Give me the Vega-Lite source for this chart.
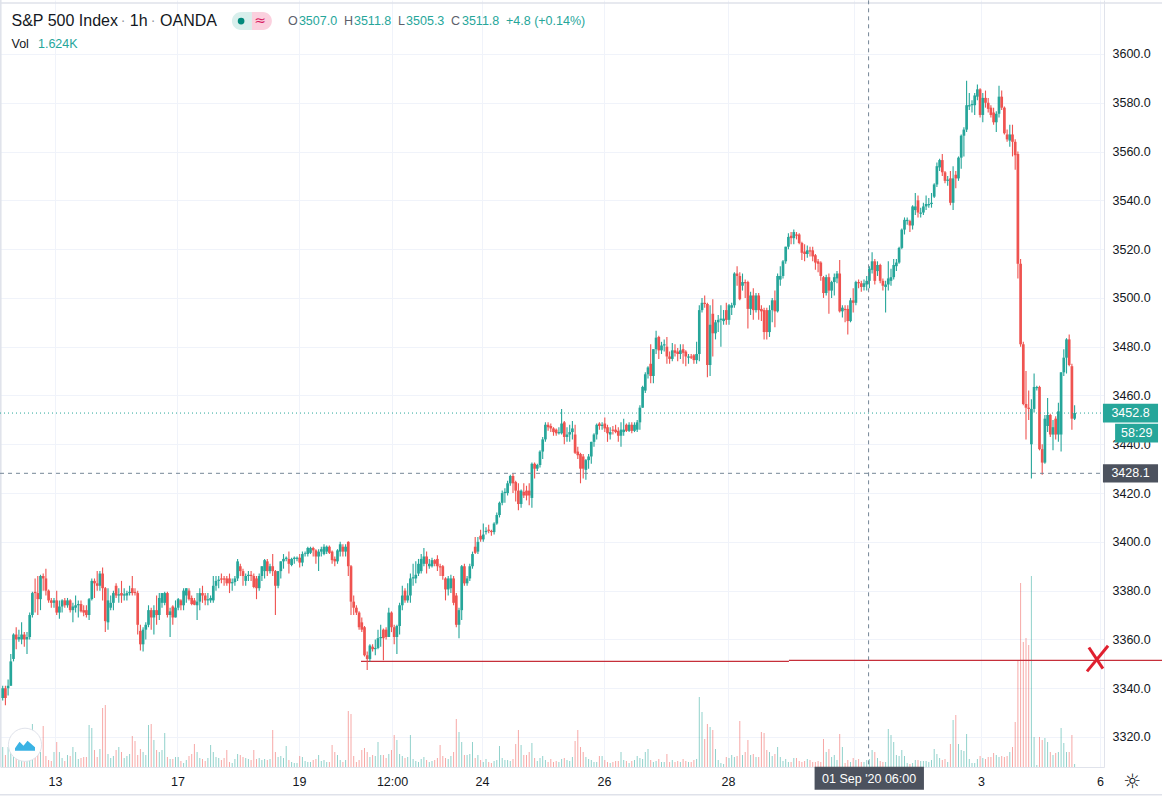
{"$schema":"https://vega.github.io/schema/vega-lite/v6.json","autosize":"none","padding":{"left":0,"top":0,"right":58,"bottom":29},"width":1104,"height":767,"background":"#ffffff","config":{"view":{"stroke":null},"axis":{"labelFont":"Liberation Sans","labelFontSize":12.5,"labelColor":"#131722","gridColor":"#f0f3fa","gridWidth":1,"domainColor":"#e0e3eb","tickSize":0,"title":null,"labelOverlap":false,"labelFlush":false},"text":{"font":"Liberation Sans"}},
"data":{"name":"candles"},
"datasets":{"candles":[
{"i":0,"o":3336,"h":3341,"l":3335,"c":3340,"v":4000},{"i":1,"o":3340,"h":3341,"l":3333,"c":3336,"v":2400},{"i":2,"o":3340,"h":3343.6,"l":3337,"c":3341,"v":4000},{"i":3,"o":3341,"h":3354,"l":3341,"c":3351,"v":3600},{"i":4,"o":3352,"h":3362.5,"l":3351,"c":3362,"v":3000},{"i":5,"o":3362,"h":3365,"l":3356,"c":3360,"v":2400},{"i":6,"o":3360,"h":3364,"l":3359,"c":3361,"v":2000},{"i":7,"o":3360,"h":3367,"l":3358,"c":3362,"v":1600},{"i":8,"o":3362,"h":3363,"l":3357,"c":3360,"v":1600},{"i":9,"o":3360,"h":3363,"l":3354,"c":3361,"v":2000},{"i":10,"o":3361,"h":3371,"l":3360,"c":3370,"v":4000},{"i":11,"o":3370,"h":3379.5,"l":3369,"c":3379,"v":8600},{"i":12,"o":3379.5,"h":3385,"l":3371,"c":3379,"v":2400},{"i":13,"o":3379,"h":3386,"l":3370,"c":3376.5,"v":3600},{"i":14,"o":3376.5,"h":3386.5,"l":3372,"c":3386,"v":3000},{"i":15,"o":3386,"h":3387,"l":3380,"c":3385,"v":8200},{"i":16,"o":3385,"h":3389,"l":3378,"c":3380,"v":2200},{"i":17,"o":3380,"h":3380.5,"l":3375,"c":3376,"v":1400},{"i":18,"o":3376,"h":3377,"l":3373,"c":3375,"v":1200},{"i":19,"o":3375,"h":3377,"l":3373,"c":3376,"v":3000},{"i":20,"o":3376,"h":3380,"l":3370,"c":3371,"v":5000},{"i":21,"o":3371,"h":3376,"l":3368.5,"c":3373.5,"v":3000},{"i":22,"o":3373.5,"h":3376.5,"l":3371,"c":3376,"v":1800},{"i":23,"o":3376,"h":3377,"l":3373,"c":3374,"v":1200},{"i":24,"o":3374,"h":3377,"l":3373,"c":3376,"v":2400},{"i":25,"o":3376,"h":3376.5,"l":3371,"c":3372,"v":2200},{"i":26,"o":3372,"h":3375,"l":3367,"c":3373.5,"v":4000},{"i":27,"o":3373,"h":3378,"l":3371,"c":3374,"v":3000},{"i":28,"o":3374,"h":3376,"l":3369,"c":3374.5,"v":1600},{"i":29,"o":3374.5,"h":3376,"l":3371,"c":3371.5,"v":1800},{"i":30,"o":3372,"h":3374,"l":3369.5,"c":3371,"v":2000},{"i":31,"o":3372,"h":3374,"l":3369,"c":3370,"v":2000},{"i":32,"o":3370,"h":3377,"l":3368,"c":3376.5,"v":8400},{"i":33,"o":3376.5,"h":3385,"l":3376,"c":3384,"v":7800},{"i":34,"o":3384,"h":3385,"l":3377,"c":3383,"v":3400},{"i":35,"o":3383,"h":3388,"l":3380,"c":3382,"v":2000},{"i":36,"o":3382,"h":3388,"l":3380,"c":3387,"v":3600},{"i":37,"o":3387,"h":3389.5,"l":3376,"c":3381,"v":11800},{"i":38,"o":3381,"h":3381.5,"l":3363,"c":3367.5,"v":12400},{"i":39,"o":3367,"h":3381,"l":3364,"c":3376,"v":2600},{"i":40,"o":3373,"h":3378,"l":3372,"c":3375,"v":1800},{"i":41,"o":3375,"h":3380,"l":3372,"c":3379,"v":2200},{"i":42,"o":3382,"h":3383,"l":3377,"c":3378,"v":3400},{"i":43,"o":3378,"h":3381,"l":3375,"c":3378.5,"v":4000},{"i":44,"o":3379,"h":3384,"l":3375,"c":3378,"v":3000},{"i":45,"o":3378,"h":3381,"l":3376,"c":3378.5,"v":1800},{"i":46,"o":3378,"h":3380,"l":3376,"c":3379,"v":2200},{"i":47,"o":3379,"h":3382,"l":3378,"c":3379.5,"v":2600},{"i":48,"o":3381,"h":3386,"l":3378,"c":3379,"v":6200},{"i":49,"o":3379.5,"h":3381,"l":3378,"c":3379,"v":5200},{"i":50,"o":3379,"h":3380,"l":3362,"c":3366,"v":2400},{"i":51,"o":3363.5,"h":3366,"l":3355.5,"c":3358,"v":3600},{"i":52,"o":3358,"h":3365,"l":3355,"c":3364,"v":3000},{"i":53,"o":3364,"h":3367,"l":3360,"c":3366,"v":2400},{"i":54,"o":3366,"h":3374,"l":3365,"c":3372,"v":8400},{"i":55,"o":3372,"h":3373,"l":3364,"c":3369,"v":8600},{"i":56,"o":3369,"h":3374,"l":3362,"c":3372,"v":5400},{"i":57,"o":3372,"h":3378,"l":3366,"c":3370,"v":3400},{"i":58,"o":3370,"h":3379,"l":3368,"c":3377,"v":3000},{"i":59,"o":3375,"h":3379,"l":3373,"c":3379,"v":3400},{"i":60,"o":3375,"h":3379.5,"l":3374,"c":3379,"v":6800},{"i":61,"o":3379,"h":3379.5,"l":3369,"c":3370,"v":2000},{"i":62,"o":3370,"h":3373,"l":3361,"c":3371.5,"v":1600},{"i":63,"o":3373.5,"h":3374,"l":3366,"c":3369,"v":1600},{"i":64,"o":3369,"h":3376,"l":3369,"c":3373,"v":2000},{"i":65,"o":3373,"h":3377,"l":3372,"c":3376.5,"v":2000},{"i":66,"o":3376,"h":3376.5,"l":3372,"c":3374,"v":1200},{"i":67,"o":3374,"h":3381,"l":3372,"c":3380,"v":800},{"i":68,"o":3378,"h":3381,"l":3375,"c":3381,"v":1400},{"i":69,"o":3380,"h":3381,"l":3376,"c":3376.5,"v":2200},{"i":70,"o":3377,"h":3378,"l":3374,"c":3374.5,"v":2600},{"i":71,"o":3376,"h":3377,"l":3374,"c":3374.2,"v":4600},{"i":72,"o":3374,"h":3379,"l":3368,"c":3375.5,"v":3000},{"i":73,"o":3375.5,"h":3381,"l":3372,"c":3379,"v":1800},{"i":74,"o":3379,"h":3382,"l":3375,"c":3378,"v":1600},{"i":75,"o":3378,"h":3379,"l":3374,"c":3376,"v":1200},{"i":76,"o":3376,"h":3379,"l":3374,"c":3376.5,"v":1800},{"i":77,"o":3376,"h":3378,"l":3375,"c":3377,"v":4400},{"i":78,"o":3376,"h":3386,"l":3375,"c":3382,"v":3000},{"i":79,"o":3382,"h":3386,"l":3380,"c":3384,"v":2000},{"i":80,"o":3384,"h":3386,"l":3381,"c":3384.5,"v":1800},{"i":81,"o":3385,"h":3387,"l":3383,"c":3384.5,"v":1400},{"i":82,"o":3385,"h":3386,"l":3382,"c":3384.5,"v":1800},{"i":83,"o":3385,"h":3386,"l":3382,"c":3383,"v":3400},{"i":84,"o":3385,"h":3387,"l":3379,"c":3383,"v":1000},{"i":85,"o":3383,"h":3385,"l":3380,"c":3383.5,"v":800},{"i":86,"o":3383.5,"h":3386,"l":3382,"c":3385,"v":1600},{"i":87,"o":3385,"h":3393,"l":3384,"c":3392,"v":2600},{"i":88,"o":3390,"h":3391,"l":3386,"c":3388,"v":2400},{"i":89,"o":3388,"h":3389,"l":3382,"c":3386,"v":2000},{"i":90,"o":3384,"h":3387,"l":3382,"c":3386,"v":1800},{"i":91,"o":3386,"h":3388,"l":3384,"c":3386.5,"v":1600},{"i":92,"o":3386.5,"h":3388,"l":3384,"c":3386,"v":1400},{"i":93,"o":3386,"h":3387,"l":3381,"c":3381.5,"v":3400},{"i":94,"o":3385,"h":3386,"l":3376.5,"c":3381,"v":1600},{"i":95,"o":3381,"h":3387,"l":3380,"c":3386,"v":1800},{"i":96,"o":3386,"h":3390,"l":3384,"c":3390,"v":1400},{"i":97,"o":3388,"h":3393,"l":3385,"c":3392.5,"v":1600},{"i":98,"o":3392,"h":3393,"l":3386,"c":3388,"v":1400},{"i":99,"o":3388,"h":3391,"l":3387,"c":3390,"v":1600},{"i":100,"o":3390,"h":3395,"l":3386,"c":3388,"v":7400},{"i":101,"o":3388,"h":3388.5,"l":3370,"c":3382,"v":3000},{"i":102,"o":3382,"h":3388,"l":3381,"c":3388,"v":2000},{"i":103,"o":3388,"h":3392,"l":3385,"c":3392,"v":2200},{"i":104,"o":3392,"h":3395,"l":3389,"c":3393,"v":1800},{"i":105,"o":3393,"h":3394,"l":3392,"c":3393.5,"v":4200},{"i":106,"o":3393,"h":3396,"l":3387,"c":3391,"v":1400},{"i":107,"o":3390.5,"h":3393.5,"l":3390,"c":3393,"v":1000},{"i":108,"o":3393,"h":3394,"l":3391,"c":3393.5,"v":800},{"i":109,"o":3393,"h":3394,"l":3392,"c":3393.5,"v":800},{"i":110,"o":3393.5,"h":3395,"l":3389.5,"c":3391.5,"v":2200},{"i":111,"o":3391.5,"h":3396,"l":3390,"c":3395,"v":2000},{"i":112,"o":3395,"h":3396,"l":3394,"c":3395.3,"v":1200},{"i":113,"o":3395,"h":3398,"l":3394,"c":3397.5,"v":1000},{"i":114,"o":3395.5,"h":3398,"l":3395,"c":3397.5,"v":1000},{"i":115,"o":3397.5,"h":3398,"l":3394,"c":3396.5,"v":1400},{"i":116,"o":3396.5,"h":3397,"l":3391,"c":3394,"v":1600},{"i":117,"o":3394,"h":3397,"l":3388,"c":3396,"v":2400},{"i":118,"o":3396,"h":3398,"l":3394,"c":3397,"v":1200},{"i":119,"o":3395,"h":3399,"l":3394.5,"c":3398,"v":1400},{"i":120,"o":3396,"h":3398.5,"l":3395,"c":3398,"v":1000},{"i":121,"o":3398,"h":3398.5,"l":3395,"c":3395.5,"v":1000},{"i":122,"o":3396,"h":3396.5,"l":3391,"c":3392.5,"v":4400},{"i":123,"o":3393,"h":3394,"l":3390,"c":3392,"v":3000},{"i":124,"o":3392,"h":3397,"l":3391,"c":3396.5,"v":2400},{"i":125,"o":3396,"h":3400,"l":3394,"c":3399,"v":1400},{"i":126,"o":3398,"h":3399,"l":3394,"c":3396,"v":1000},{"i":127,"o":3396,"h":3399,"l":3394,"c":3398,"v":1400},{"i":128,"o":3400,"h":3400.2,"l":3386,"c":3390,"v":11200},{"i":129,"o":3390,"h":3390.5,"l":3370,"c":3375.5,"v":10600},{"i":130,"o":3375.5,"h":3378,"l":3370,"c":3373,"v":2200},{"i":131,"o":3373,"h":3374,"l":3370,"c":3371,"v":1000},{"i":132,"o":3371,"h":3371.5,"l":3364,"c":3365,"v":1400},{"i":133,"o":3367,"h":3369,"l":3363,"c":3364,"v":3400},{"i":134,"o":3365,"h":3365.5,"l":3353,"c":3353.5,"v":3800},{"i":135,"o":3353.5,"h":3355,"l":3347.5,"c":3352,"v":3000},{"i":136,"o":3352,"h":3358,"l":3351,"c":3357.5,"v":2000},{"i":137,"o":3357,"h":3358,"l":3355,"c":3356,"v":2400},{"i":138,"o":3356,"h":3360,"l":3353.5,"c":3356.5,"v":2200},{"i":139,"o":3356.5,"h":3364,"l":3356,"c":3360.5,"v":5000},{"i":140,"o":3360.5,"h":3366,"l":3357,"c":3361,"v":2400},{"i":141,"o":3364,"h":3364.5,"l":3351.5,"c":3360.5,"v":2400},{"i":142,"o":3364,"h":3365,"l":3360,"c":3361,"v":1800},{"i":143,"o":3361,"h":3373,"l":3361,"c":3371,"v":2600},{"i":144,"o":3371,"h":3371.5,"l":3363,"c":3365,"v":3400},{"i":145,"o":3365,"h":3366,"l":3358,"c":3361,"v":6400},{"i":146,"o":3361,"h":3366,"l":3354,"c":3365.5,"v":5400},{"i":147,"o":3365.5,"h":3375,"l":3362,"c":3374,"v":2600},{"i":148,"o":3374,"h":3382,"l":3372,"c":3378,"v":2200},{"i":149,"o":3380,"h":3381,"l":3375,"c":3376,"v":1800},{"i":150,"o":3376,"h":3383,"l":3375,"c":3378,"v":2000},{"i":151,"o":3378,"h":3387,"l":3375,"c":3385,"v":6400},{"i":152,"o":3385,"h":3391,"l":3382,"c":3385.5,"v":1600},{"i":153,"o":3385,"h":3392,"l":3383,"c":3386.5,"v":1200},{"i":154,"o":3387,"h":3393,"l":3386,"c":3391,"v":1000},{"i":155,"o":3388,"h":3395,"l":3387,"c":3393,"v":1600},{"i":156,"o":3391,"h":3397.5,"l":3390,"c":3394,"v":2000},{"i":157,"o":3394,"h":3396,"l":3387,"c":3391,"v":1400},{"i":158,"o":3390,"h":3393,"l":3389,"c":3391,"v":1000},{"i":159,"o":3390,"h":3393.5,"l":3389.5,"c":3392.5,"v":1200},{"i":160,"o":3392.5,"h":3393,"l":3390,"c":3391,"v":1400},{"i":161,"o":3393,"h":3394.5,"l":3388,"c":3390,"v":1800},{"i":162,"o":3390,"h":3391,"l":3386,"c":3389.5,"v":4400},{"i":163,"o":3390,"h":3390.5,"l":3384.5,"c":3386,"v":2200},{"i":164,"o":3385,"h":3385.5,"l":3376,"c":3380.5,"v":1800},{"i":165,"o":3380.5,"h":3386,"l":3378,"c":3385,"v":1600},{"i":166,"o":3381,"h":3386.5,"l":3379,"c":3385,"v":2200},{"i":167,"o":3385,"h":3386,"l":3374,"c":3375,"v":3000},{"i":168,"o":3378,"h":3379,"l":3365,"c":3366,"v":9600},{"i":169,"o":3366,"h":3373,"l":3360.5,"c":3372,"v":7000},{"i":170,"o":3372,"h":3390.5,"l":3368,"c":3390,"v":5000},{"i":171,"o":3390,"h":3391,"l":3382,"c":3383,"v":2400},{"i":172,"o":3383,"h":3386,"l":3382,"c":3385,"v":2400},{"i":173,"o":3385,"h":3391,"l":3384,"c":3390,"v":2600},{"i":174,"o":3390,"h":3396,"l":3389,"c":3395,"v":5000},{"i":175,"o":3398,"h":3402,"l":3395,"c":3395.5,"v":1800},{"i":176,"o":3396,"h":3402,"l":3395,"c":3400,"v":2400},
{"i":177,"o":3402.5,"h":3405,"l":3400,"c":3401,"v":1400},{"i":178,"o":3401,"h":3407.5,"l":3400,"c":3403,"v":1000},{"i":179,"o":3404,"h":3406,"l":3403,"c":3404.5,"v":1600},{"i":180,"o":3405,"h":3407,"l":3403.5,"c":3404.5,"v":1000},{"i":181,"o":3404.5,"h":3405,"l":3402.5,"c":3404,"v":800},{"i":182,"o":3404,"h":3408,"l":3403,"c":3407.5,"v":1200},{"i":183,"o":3407.5,"h":3412,"l":3407,"c":3411,"v":1400},{"i":184,"o":3411,"h":3416.5,"l":3410,"c":3416,"v":4200},{"i":185,"o":3416,"h":3421,"l":3415,"c":3420,"v":1800},{"i":186,"o":3420,"h":3422,"l":3416,"c":3420.5,"v":1400},{"i":187,"o":3420,"h":3425,"l":3419,"c":3424,"v":1400},{"i":188,"o":3424,"h":3427.5,"l":3423,"c":3427,"v":1200},{"i":189,"o":3427,"h":3428,"l":3420,"c":3424,"v":1600},{"i":190,"o":3424.5,"h":3425,"l":3416.5,"c":3421,"v":4600},{"i":191,"o":3421,"h":3424,"l":3413,"c":3415.5,"v":7400},{"i":192,"o":3415.5,"h":3421.5,"l":3414,"c":3421,"v":4400},{"i":193,"o":3420.5,"h":3424,"l":3418,"c":3419,"v":2400},{"i":194,"o":3421,"h":3423,"l":3417,"c":3419,"v":2400},{"i":195,"o":3421,"h":3424,"l":3415,"c":3419,"v":3000},{"i":196,"o":3418,"h":3432.5,"l":3414,"c":3432,"v":4800},{"i":197,"o":3432,"h":3432.5,"l":3426,"c":3430,"v":1800},{"i":198,"o":3430,"h":3432,"l":3429,"c":3431.5,"v":1200},{"i":199,"o":3431.5,"h":3437.5,"l":3430.5,"c":3437,"v":1800},{"i":200,"o":3437,"h":3443,"l":3434,"c":3442,"v":2200},{"i":201,"o":3442,"h":3449,"l":3441,"c":3448,"v":1400},{"i":202,"o":3448,"h":3449,"l":3445.5,"c":3447,"v":1000},{"i":203,"o":3447.5,"h":3448.5,"l":3445,"c":3446.5,"v":1600},{"i":204,"o":3446.5,"h":3447,"l":3443.5,"c":3445,"v":1000},{"i":205,"o":3446,"h":3446.5,"l":3443.5,"c":3444.5,"v":1200},{"i":206,"o":3444.5,"h":3447,"l":3444,"c":3445,"v":1000},{"i":207,"o":3444.5,"h":3454.5,"l":3444,"c":3448.5,"v":1600},{"i":208,"o":3449,"h":3449.5,"l":3440,"c":3443,"v":1800},{"i":209,"o":3443,"h":3447,"l":3441,"c":3444,"v":1400},{"i":210,"o":3444,"h":3448,"l":3441,"c":3445,"v":1200},{"i":211,"o":3445,"h":3449.5,"l":3442,"c":3446.5,"v":2000},{"i":212,"o":3444,"h":3448,"l":3436,"c":3436.5,"v":5200},{"i":213,"o":3437,"h":3439,"l":3434,"c":3435.5,"v":7400},{"i":214,"o":3436,"h":3436.5,"l":3424,"c":3430,"v":4000},{"i":215,"o":3435,"h":3436,"l":3426,"c":3430,"v":3000},{"i":216,"o":3429.5,"h":3434,"l":3425.5,"c":3433.5,"v":2000},{"i":217,"o":3433.5,"h":3436,"l":3430,"c":3435,"v":1600},{"i":218,"o":3435,"h":3441,"l":3432,"c":3441,"v":1400},{"i":219,"o":3441,"h":3444.5,"l":3439,"c":3444,"v":1000},{"i":220,"o":3444,"h":3448.5,"l":3442,"c":3448,"v":1000},{"i":221,"o":3448.5,"h":3449,"l":3446,"c":3447.5,"v":2200},{"i":222,"o":3447.5,"h":3449,"l":3446,"c":3448,"v":2200},{"i":223,"o":3448.5,"h":3451,"l":3445,"c":3446.5,"v":1400},{"i":224,"o":3447,"h":3448,"l":3441,"c":3444.5,"v":1000},{"i":225,"o":3444,"h":3447,"l":3442,"c":3445,"v":800},{"i":226,"o":3446,"h":3447.5,"l":3444,"c":3445.5,"v":1000},{"i":227,"o":3446,"h":3448,"l":3444.5,"c":3445,"v":1200},{"i":228,"o":3445.5,"h":3447,"l":3441,"c":3443.5,"v":1200},{"i":229,"o":3443.5,"h":3449,"l":3439,"c":3446,"v":3000},{"i":230,"o":3445,"h":3450.5,"l":3443.5,"c":3446,"v":1400},{"i":231,"o":3448,"h":3448.5,"l":3445,"c":3445.5,"v":1200},{"i":232,"o":3445.5,"h":3449,"l":3445,"c":3448,"v":800},{"i":233,"o":3448,"h":3449,"l":3444.5,"c":3445.5,"v":1200},{"i":234,"o":3445.5,"h":3449,"l":3445,"c":3448,"v":1400},{"i":235,"o":3446,"h":3450,"l":3445,"c":3449,"v":2200},{"i":236,"o":3449,"h":3456,"l":3446,"c":3455,"v":1800},{"i":237,"o":3455,"h":3464,"l":3455,"c":3463.5,"v":1600},{"i":238,"o":3462,"h":3469.5,"l":3461,"c":3468.7,"v":3000},{"i":239,"o":3468.7,"h":3472,"l":3467,"c":3471.5,"v":3600},{"i":240,"o":3473,"h":3481,"l":3465,"c":3468,"v":1400},{"i":241,"o":3468,"h":3479,"l":3465,"c":3479,"v":1000},{"i":242,"o":3479,"h":3486.5,"l":3477,"c":3483.7,"v":1200},{"i":243,"o":3484,"h":3484.5,"l":3475,"c":3478.5,"v":1600},{"i":244,"o":3478.5,"h":3482,"l":3477,"c":3480.5,"v":1000},{"i":245,"o":3480.5,"h":3483,"l":3478,"c":3481,"v":1000},{"i":246,"o":3480,"h":3484,"l":3473,"c":3476,"v":2600},{"i":247,"o":3476,"h":3478,"l":3473,"c":3475,"v":1000},{"i":248,"o":3475,"h":3481.5,"l":3474,"c":3478.5,"v":1400},{"i":249,"o":3478.5,"h":3481,"l":3476,"c":3477.5,"v":1000},{"i":250,"o":3478,"h":3479.5,"l":3474,"c":3477,"v":1200},{"i":251,"o":3477,"h":3481,"l":3475,"c":3478.5,"v":1000},{"i":252,"o":3479,"h":3481,"l":3473,"c":3477.5,"v":1600},{"i":253,"o":3478,"h":3478.5,"l":3472,"c":3476,"v":1200},{"i":254,"o":3475.5,"h":3477,"l":3473,"c":3476,"v":1000},{"i":255,"o":3476,"h":3477,"l":3475,"c":3475.5,"v":1000},{"i":256,"o":3476.5,"h":3477,"l":3473,"c":3474.5,"v":1400},{"i":257,"o":3474.5,"h":3482,"l":3473,"c":3477,"v":1600},{"i":258,"o":3477,"h":3497,"l":3474,"c":3495,"v":14000},{"i":259,"o":3495,"h":3500,"l":3494,"c":3498,"v":11000},{"i":260,"o":3498,"h":3501,"l":3496,"c":3497.5,"v":5600},{"i":261,"o":3497.5,"h":3498,"l":3467.5,"c":3472.5,"v":8600},{"i":262,"o":3472.5,"h":3497,"l":3468,"c":3489,"v":8000},{"i":263,"o":3493.5,"h":3499.5,"l":3476,"c":3485.5,"v":7400},{"i":264,"o":3485.5,"h":3491,"l":3483,"c":3490,"v":3600},{"i":265,"o":3490,"h":3493,"l":3486,"c":3491,"v":1400},{"i":266,"o":3491,"h":3497,"l":3480,"c":3491.5,"v":800},{"i":267,"o":3490.5,"h":3495,"l":3489,"c":3491.5,"v":600},{"i":268,"o":3495,"h":3498,"l":3489,"c":3491,"v":2000},{"i":269,"o":3491,"h":3497.5,"l":3489,"c":3497,"v":1800},{"i":270,"o":3496,"h":3498,"l":3493,"c":3497,"v":2400},{"i":271,"o":3497,"h":3510.5,"l":3496,"c":3510,"v":2000},{"i":272,"o":3510,"h":3513,"l":3505,"c":3509,"v":2200},{"i":273,"o":3509,"h":3510.5,"l":3499,"c":3499.5,"v":9200},{"i":274,"o":3505,"h":3510,"l":3503,"c":3506.5,"v":2400},{"i":275,"o":3506.5,"h":3507.5,"l":3500,"c":3506,"v":3000},{"i":276,"o":3506.5,"h":3507,"l":3487.5,"c":3495.5,"v":5400},{"i":277,"o":3495.5,"h":3502.5,"l":3493,"c":3501,"v":2400},{"i":278,"o":3501,"h":3504,"l":3491,"c":3495,"v":2600},{"i":279,"o":3495,"h":3502,"l":3494,"c":3501,"v":2000},{"i":280,"o":3501,"h":3502,"l":3491,"c":3495,"v":2000},{"i":281,"o":3495.5,"h":3497,"l":3490.5,"c":3494.5,"v":7000},{"i":282,"o":3495,"h":3496,"l":3483,"c":3486,"v":6800},{"i":283,"o":3495,"h":3496,"l":3483,"c":3486,"v":3400},{"i":284,"o":3486,"h":3497,"l":3484,"c":3495,"v":3000},{"i":285,"o":3495,"h":3500,"l":3490,"c":3499,"v":2200},{"i":286,"o":3499,"h":3503,"l":3488,"c":3494.5,"v":2600},{"i":287,"o":3494.5,"h":3510,"l":3494,"c":3509,"v":4000},{"i":288,"o":3507.5,"h":3513,"l":3505,"c":3509,"v":2000},{"i":289,"o":3509,"h":3515.5,"l":3508,"c":3515,"v":1200},{"i":290,"o":3515,"h":3521,"l":3514,"c":3521,"v":1600},{"i":291,"o":3521,"h":3526.5,"l":3520,"c":3525,"v":1000},{"i":292,"o":3525.5,"h":3527,"l":3522,"c":3524.5,"v":1000},{"i":293,"o":3524.5,"h":3528,"l":3522,"c":3527,"v":1800},{"i":294,"o":3526,"h":3527,"l":3524,"c":3525.5,"v":1800},{"i":295,"o":3526,"h":3526.5,"l":3522,"c":3522.5,"v":1200},{"i":296,"o":3522.5,"h":3523,"l":3515.5,"c":3518.5,"v":1000},{"i":297,"o":3519,"h":3522,"l":3515,"c":3518,"v":1200},{"i":298,"o":3518,"h":3521.5,"l":3516.5,"c":3519.5,"v":1600},{"i":299,"o":3519.5,"h":3521,"l":3517,"c":3519,"v":1400},{"i":300,"o":3519.5,"h":3521,"l":3515,"c":3517,"v":1000},{"i":301,"o":3517.5,"h":3518,"l":3511.5,"c":3514.5,"v":1000},{"i":302,"o":3515,"h":3516,"l":3510.5,"c":3514,"v":1200},{"i":303,"o":3514.5,"h":3515,"l":3507,"c":3509,"v":1000},{"i":304,"o":3508.5,"h":3509,"l":3500,"c":3502,"v":5600},{"i":305,"o":3502,"h":3509.5,"l":3501,"c":3508.5,"v":3000},{"i":306,"o":3508.5,"h":3510,"l":3493.5,"c":3503,"v":3600},{"i":307,"o":3503,"h":3507,"l":3500,"c":3506.5,"v":2000},{"i":308,"o":3506.5,"h":3510,"l":3501,"c":3508.5,"v":2400},{"i":309,"o":3508,"h":3511,"l":3506,"c":3510,"v":1400},{"i":310,"o":3510,"h":3515.5,"l":3494,"c":3494.5,"v":6600},{"i":311,"o":3494.5,"h":3497,"l":3492,"c":3496,"v":4000},{"i":312,"o":3495.5,"h":3497,"l":3490,"c":3495,"v":800},{"i":313,"o":3495.5,"h":3497,"l":3485,"c":3490.5,"v":1400},{"i":314,"o":3490.5,"h":3500,"l":3490,"c":3499,"v":1000},{"i":315,"o":3499,"h":3504,"l":3494,"c":3498,"v":1800},{"i":316,"o":3498,"h":3507,"l":3497,"c":3506.5,"v":1400},{"i":317,"o":3506.5,"h":3507.5,"l":3504,"c":3506,"v":1600},{"i":318,"o":3506,"h":3507,"l":3502.5,"c":3504.5,"v":1000},{"i":319,"o":3504.5,"h":3507.5,"l":3503,"c":3506,"v":1000},{"i":320,"o":3505.5,"h":3509,"l":3503,"c":3507,"v":1400},{"i":321,"o":3507,"h":3513,"l":3504,"c":3512,"v":1600},{"i":322,"o":3511.5,"h":3518.7,"l":3510,"c":3515,"v":3400},{"i":323,"o":3515,"h":3516,"l":3505.5,"c":3507,"v":3000},{"i":324,"o":3511,"h":3515,"l":3509,"c":3513.5,"v":1800},{"i":325,"o":3513.5,"h":3514,"l":3506,"c":3507,"v":1200},{"i":326,"o":3507,"h":3508,"l":3503,"c":3505,"v":1000},{"i":327,"o":3504.5,"h":3507,"l":3494,"c":3505.5,"v":1000},{"i":328,"o":3505.5,"h":3515,"l":3503,"c":3508,"v":7600},{"i":329,"o":3507,"h":3512,"l":3505,"c":3508.5,"v":6400},{"i":330,"o":3508.5,"h":3516,"l":3507.5,"c":3513.5,"v":5000},{"i":331,"o":3513,"h":3516,"l":3511,"c":3514.5,"v":2400},{"i":332,"o":3514.5,"h":3521,"l":3514,"c":3520.5,"v":2200},{"i":333,"o":3520.5,"h":3528.5,"l":3520,"c":3528,"v":3400},{"i":334,"o":3528,"h":3533,"l":3526,"c":3532,"v":2200},{"i":335,"o":3531.5,"h":3533,"l":3530,"c":3532,"v":800},{"i":336,"o":3531.5,"h":3532,"l":3527,"c":3529.7,"v":600},{"i":337,"o":3529.7,"h":3538,"l":3528,"c":3537.5,"v":800},{"i":338,"o":3536,"h":3543,"l":3534,"c":3537.5,"v":1400},{"i":339,"o":3540,"h":3542,"l":3533,"c":3535,"v":1400},{"i":340,"o":3534.5,"h":3537,"l":3533,"c":3535,"v":1200},{"i":341,"o":3535,"h":3539,"l":3534,"c":3537.5,"v":1200},{"i":342,"o":3537.5,"h":3542,"l":3536,"c":3538.5,"v":1200},{"i":343,"o":3538,"h":3541,"l":3537,"c":3538.5,"v":1000},{"i":344,"o":3538.5,"h":3543,"l":3537,"c":3539,"v":1400},{"i":345,"o":3541.5,"h":3547,"l":3541,"c":3546.5,"v":3600},{"i":346,"o":3546.5,"h":3555.5,"l":3545.5,"c":3554,"v":2600},{"i":347,"o":3553.5,"h":3557,"l":3552,"c":3556.5,"v":1800},{"i":348,"o":3556.5,"h":3559,"l":3550,"c":3551.5,"v":1400},{"i":349,"o":3551.5,"h":3552,"l":3547,"c":3548,"v":1600},{"i":350,"o":3548,"h":3550,"l":3546,"c":3548.5,"v":1000},{"i":351,"o":3549,"h":3552,"l":3538,"c":3539,"v":4600},{"i":352,"o":3539,"h":3554,"l":3536,"c":3549,"v":9400},{"i":353,"o":3550.5,"h":3552,"l":3545,"c":3549,"v":10400},{"i":354,"o":3549,"h":3558,"l":3548,"c":3557.5,"v":4600},{"i":355,"o":3557.5,"h":3567,"l":3553,"c":3566.5,"v":3400},{"i":356,"o":3566.5,"h":3570,"l":3558,"c":3569,"v":3200},{"i":357,"o":3569,"h":3589,"l":3568,"c":3579,"v":6600},{"i":358,"o":3578.5,"h":3584,"l":3577,"c":3579,"v":1600},{"i":359,"o":3579,"h":3581,"l":3576,"c":3579.5,"v":800},{"i":360,"o":3579,"h":3584,"l":3575,"c":3583,"v":800},{"i":361,"o":3582.5,"h":3587.5,"l":3581,"c":3585.5,"v":1600},{"i":362,"o":3585.5,"h":3586,"l":3574,"c":3575,"v":2200},{"i":363,"o":3575,"h":3584,"l":3572,"c":3582,"v":1800},{"i":364,"o":3582,"h":3585,"l":3578,"c":3580,"v":1600},{"i":365,"o":3580,"h":3582,"l":3576,"c":3577.5,"v":2000},{"i":366,"o":3578,"h":3579,"l":3574,"c":3575,"v":2000},{"i":367,"o":3576,"h":3578,"l":3571,"c":3572,"v":2800},{"i":368,"o":3572,"h":3576.5,"l":3568,"c":3575.5,"v":2400},{"i":369,"o":3575.5,"h":3587,"l":3574,"c":3582.5,"v":2000},{"i":370,"o":3582.5,"h":3585,"l":3577,"c":3578,"v":2200},{"i":371,"o":3578,"h":3578.5,"l":3567,"c":3567.5,"v":2000},{"i":372,"o":3567,"h":3569,"l":3564,"c":3565,"v":2200},{"i":373,"o":3564.5,"h":3571,"l":3562,"c":3567,"v":3000},{"i":374,"o":3567,"h":3571,"l":3558,"c":3564,"v":4000},{"i":375,"o":3564,"h":3565,"l":3552.5,"c":3558.5,"v":9000},{"i":376,"o":3559,"h":3560,"l":3508,"c":3514,"v":21400},{"i":377,"o":3514,"h":3516,"l":3480,"c":3481,"v":36800},{"i":378,"o":3481,"h":3482,"l":3456,"c":3456.5,"v":25000},{"i":379,"o":3456.5,"h":3470,"l":3442,"c":3455,"v":25800},{"i":380,"o":3455,"h":3462,"l":3450,"c":3454.5,"v":24400},{"i":381,"o":3440,"h":3458.5,"l":3426,"c":3454.5,"v":38200},{"i":382,"o":3454.5,"h":3469,"l":3453,"c":3463.5,"v":6000},{"i":383,"o":3463,"h":3464,"l":3462,"c":3463.5,"v":400},{"i":384,"o":3463.5,"h":3464,"l":3437.5,"c":3438,"v":6000},{"i":385,"o":3438,"h":3440,"l":3427.5,"c":3432.5,"v":5400},{"i":386,"o":3432.5,"h":3452,"l":3432,"c":3450.5,"v":5800},{"i":387,"o":3447.5,"h":3459,"l":3445,"c":3452,"v":5000},{"i":388,"o":3452,"h":3452.5,"l":3443,"c":3444,"v":3000},{"i":389,"o":3444,"h":3450,"l":3437.5,"c":3447,"v":2400},{"i":390,"o":3450.5,"h":3451.5,"l":3442,"c":3444,"v":2800},{"i":391,"o":3444,"h":3457,"l":3441,"c":3453.5,"v":3000},{"i":392,"o":3444,"h":3469.5,"l":3437,"c":3469.5,"v":7800},{"i":393,"o":3469.5,"h":3479,"l":3468,"c":3475.5,"v":4800},{"i":394,"o":3475.5,"h":3483.5,"l":3469,"c":3483,"v":3000},{"i":395,"o":3483,"h":3485,"l":3472,"c":3472.5,"v":3000},{"i":396,"o":3472,"h":3473,"l":3446,"c":3450.5,"v":6400},{"i":397,"o":3450.5,"h":3456,"l":3450,"c":3452.8,"v":600}
]},
"encoding":{"x":{"field":"i","type":"quantitative","scale":{"domain":[-1,407.89],"nice":false,"zero":false,"padding":0},"axis":{"values":[19.37,64.74,109.74,144.2,177.5,222.7,268.6,315.3,362.3,406.4],"labelExpr":"{'19.37':'13','64.74':'17','109.74':'19','144.2':'12:00','177.5':'24','222.7':'26','268.6':'28','315.3':'','362.3':'3','406.4':'6'}[''+datum.value]","labelPadding":8,"grid":true}}},
"resolve":{"scale":{"y":"independent"}},
"layer":[
{"data":{"values":[{"i":-1,"i2":430,"p":3620.9},{"i":-1,"i2":430,"p":3296.3}]},"mark":{"type":"rule","color":"#dfe2ea","strokeWidth":1.5},"encoding":{"x2":{"field":"i2"},"y":{"field":"p","type":"quantitative","scale":{"domain":[3307.7,3622.13],"nice":false,"zero":false},"axis":{"orient":"right","values":[3320,3340,3360,3380,3400,3420,3440,3460,3480,3500,3520,3540,3560,3580,3600],"format":".1f","labelPadding":8,"grid":true}}}},
{"mark":{"type":"bar","size":1,"opacity":0.5,"orient":"vertical"},"encoding":{"y":{"field":"v","type":"quantitative","stack":null,"scale":{"domain":[0,153400],"nice":false},"axis":null},"color":{"condition":{"test":"datum.c>=datum.o","value":"#26a69a"},"value":"#ef5350"}}},
{"layer":[
{"data":{"values":[{"i":-0.7,"p":3622.13,"p2":3307.7}]},"mark":{"type":"rule","color":"#dfe2ea","strokeWidth":1.5},"encoding":{"y":{"field":"p","type":"quantitative","scale":{"domain":[3307.7,3622.13],"nice":false,"zero":false},"axis":null},"y2":{"field":"p2"}}},
{"data":{"values":[{"i":132.7,"i2":291.2,"p":3351},{"i":291.2,"i2":429.4,"p":3351.4}]},"mark":{"type":"rule","color":"#c62f3a","strokeWidth":1.2},"encoding":{"x2":{"field":"i2"},"y":{"field":"p","type":"quantitative","axis":null}}},
{"mark":{"type":"rule","strokeWidth":1.1},"encoding":{"y":{"field":"l","type":"quantitative","axis":null},"y2":{"field":"h"},"color":{"condition":{"test":"datum.c>=datum.o","value":"#26a69a"},"value":"#ef5350"}}},
{"mark":{"type":"bar","size":2.7,"orient":"vertical"},"encoding":{"y":{"field":"o","type":"quantitative","axis":null},"y2":{"field":"c"},"color":{"condition":{"test":"datum.c>=datum.o","value":"#26a69a"},"value":"#ef5350"}}},
{"data":{"values":[{"i":-1,"i2":407.5,"p":3452.8}]},"mark":{"type":"rule","color":"#26a69a","strokeWidth":1,"strokeDash":[1,3]},"encoding":{"x2":{"field":"i2"},"y":{"field":"p","type":"quantitative","axis":null}}},
{"data":{"values":[{"i":-1,"i2":407.5,"p":3428.1}]},"mark":{"type":"rule","color":"#758696","strokeWidth":1,"strokeDash":[4,4]},"encoding":{"x2":{"field":"i2"},"y":{"field":"p","type":"quantitative","axis":null}}},
{"data":{"values":[{"i":320.7,"p":3622,"p2":3307.7}]},"mark":{"type":"rule","color":"#758696","strokeWidth":1,"strokeDash":[4,4]},"encoding":{"y":{"field":"p","type":"quantitative","axis":null},"y2":{"field":"p2"}}},
{"data":{"values":[{"i":401.6,"p":3346.9,"i2":409.4,"p2":3357.4},{"i":402.3,"p":3356.7,"i2":407.5,"p2":3348}]},"mark":{"type":"rule","color":"#e0202f","strokeWidth":3},"encoding":{"x2":{"field":"i2"},"y":{"field":"p","type":"quantitative","axis":null},"y2":{"field":"p2"}}},
{"data":{"values":[{"i":407.5,"i2":427.9,"p":3456.6,"p2":3448.9},{"i":412,"i2":427.9,"p":3448.4,"p2":3440.7}]},"mark":{"type":"rect","color":"#26a69a"},"encoding":{"x2":{"field":"i2"},"y":{"field":"p","type":"quantitative","axis":null},"y2":{"field":"p2"}}},
{"data":{"values":[{"i":407.5,"i2":427.9,"p":3431.8,"p2":3424.3},{"i":300.7,"i2":341.2,"p":3307.8,"p2":3298.4}]},"mark":{"type":"rect","color":"#4c525e"},"encoding":{"x2":{"field":"i2"},"y":{"field":"p","type":"quantitative","axis":null},"y2":{"field":"p2"}}},
{"data":{"values":[{"i":417.7,"p":3452.8,"t":"3452.8"},{"i":420,"p":3444.6,"t":"58:29"},{"i":417.7,"p":3428.1,"t":"3428.1"},{"i":320.9,"p":3302.9,"t":"01 Sep '20   06:00"}]},"mark":{"type":"text","color":"#ffffff","fontSize":12.5,"align":"center","baseline":"middle"},"encoding":{"y":{"field":"p","type":"quantitative","axis":null},"text":{"field":"t"}}},
{"data":{"values":[{"i":3.26,"p":3613.5,"t":"S&P 500 Index"},{"i":47.1,"p":3613.5,"t":"1h"},{"i":58.3,"p":3613.5,"t":"OANDA"},{"i":3.26,"p":3604.1,"t":"Vol","small":true}]},"transform":[{"filter":"!datum.small"}],"mark":{"type":"text","color":"#131722","fontSize":16,"align":"left","baseline":"middle"},"encoding":{"y":{"field":"p","type":"quantitative","axis":null},"text":{"field":"t"}}},
{"data":{"values":[{"i":44.6,"p":3613.5,"t":"·"},{"i":55.7,"p":3613.5,"t":"·"}]},"mark":{"type":"text","color":"#9598a1","fontSize":14,"align":"center","baseline":"middle"},"encoding":{"y":{"field":"p","type":"quantitative","axis":null},"text":{"field":"t"}}},
{"data":{"values":[{"i":3.26,"p":3604.1,"t":"Vol"}]},"mark":{"type":"text","color":"#131722","fontSize":12.5,"align":"left","baseline":"middle"},"encoding":{"y":{"field":"p","type":"quantitative","axis":null},"text":{"field":"t"}}},
{"data":{"values":[{"i":105.7,"p":3613.5,"t":"O"},{"i":126.4,"p":3613.5,"t":"H"},{"i":146.4,"p":3613.5,"t":"L"},{"i":166,"p":3613.5,"t":"C"}]},"mark":{"type":"text","color":"#5d606b","fontSize":12.5,"align":"left","baseline":"middle"},"encoding":{"y":{"field":"p","type":"quantitative","axis":null},"text":{"field":"t"}}},
{"data":{"values":[{"i":109.7,"p":3613.5,"t":"3507.0"},{"i":130.1,"p":3613.5,"t":"3511.8"},{"i":149.4,"p":3613.5,"t":"3505.3"},{"i":170.1,"p":3613.5,"t":"3511.8"},{"i":186.4,"p":3613.5,"t":"+4.8 (+0.14%)"},{"i":13.07,"p":3604.1,"t":"1.624K"}]},"mark":{"type":"text","color":"#26a69a","fontSize":12.5,"align":"left","baseline":"middle"},"encoding":{"y":{"field":"p","type":"quantitative","axis":null},"text":{"field":"t"}}},
{"data":{"values":[{"i":84.9,"i2":92.3,"p":3617.2,"p2":3609.8}]},"mark":{"type":"rect","color":"#d8efec","cornerRadiusTopLeft":9,"cornerRadiusBottomLeft":9},"encoding":{"x2":{"field":"i2"},"y":{"field":"p","type":"quantitative","axis":null},"y2":{"field":"p2"}}},
{"data":{"values":[{"i":92.3,"i2":99.7,"p":3617.2,"p2":3609.8}]},"mark":{"type":"rect","color":"#fbd0de","cornerRadiusTopRight":9,"cornerRadiusBottomRight":9},"encoding":{"x2":{"field":"i2"},"y":{"field":"p","type":"quantitative","axis":null},"y2":{"field":"p2"}}},
{"data":{"values":[{"i":88.3,"p":3613.5}]},"mark":{"type":"point","filled":true,"size":45,"opacity":1,"color":"#00897b"},"encoding":{"y":{"field":"p","type":"quantitative","axis":null}}},
{"data":{"values":[{"i":95.3,"p":3613.5,"t":"≈"}]},"mark":{"type":"text","fontSize":14,"color":"#d81b60","align":"center","baseline":"middle","font":"DejaVu Sans"},"encoding":{"y":{"field":"p","type":"quantitative","axis":null},"text":{"field":"t"}}},
{"data":{"values":[{"i":8.26,"p":3316.8}]},"mark":{"type":"point","filled":true,"size":1100,"opacity":1,"fill":"#ffffff","stroke":"#e0e3eb","strokeWidth":1},"encoding":{"y":{"field":"p","type":"quantitative","axis":null}}},
{"data":{"values":[{"i":8.26,"p":3316.8}]},"mark":{"type":"point","filled":true,"size":400,"opacity":1,"color":"#3bb3e4","shape":"M-1,0.35 L-0.55,-0.3 L-0.15,0.1 L0.25,-0.4 L0.6,-0.1 L1,0.25 L1,0.6 L-1,0.6 Z"},"encoding":{"y":{"field":"p","type":"quantitative","axis":null}}},
{"data":{"values":[{"i":418.3,"p":3301.6,"t":"☼"}]},"mark":{"type":"text","fontSize":20,"color":"#131722","align":"center","baseline":"middle","font":"DejaVu Sans"},"encoding":{"y":{"field":"p","type":"quantitative","axis":null},"text":{"field":"t"}}}
]}
]}
